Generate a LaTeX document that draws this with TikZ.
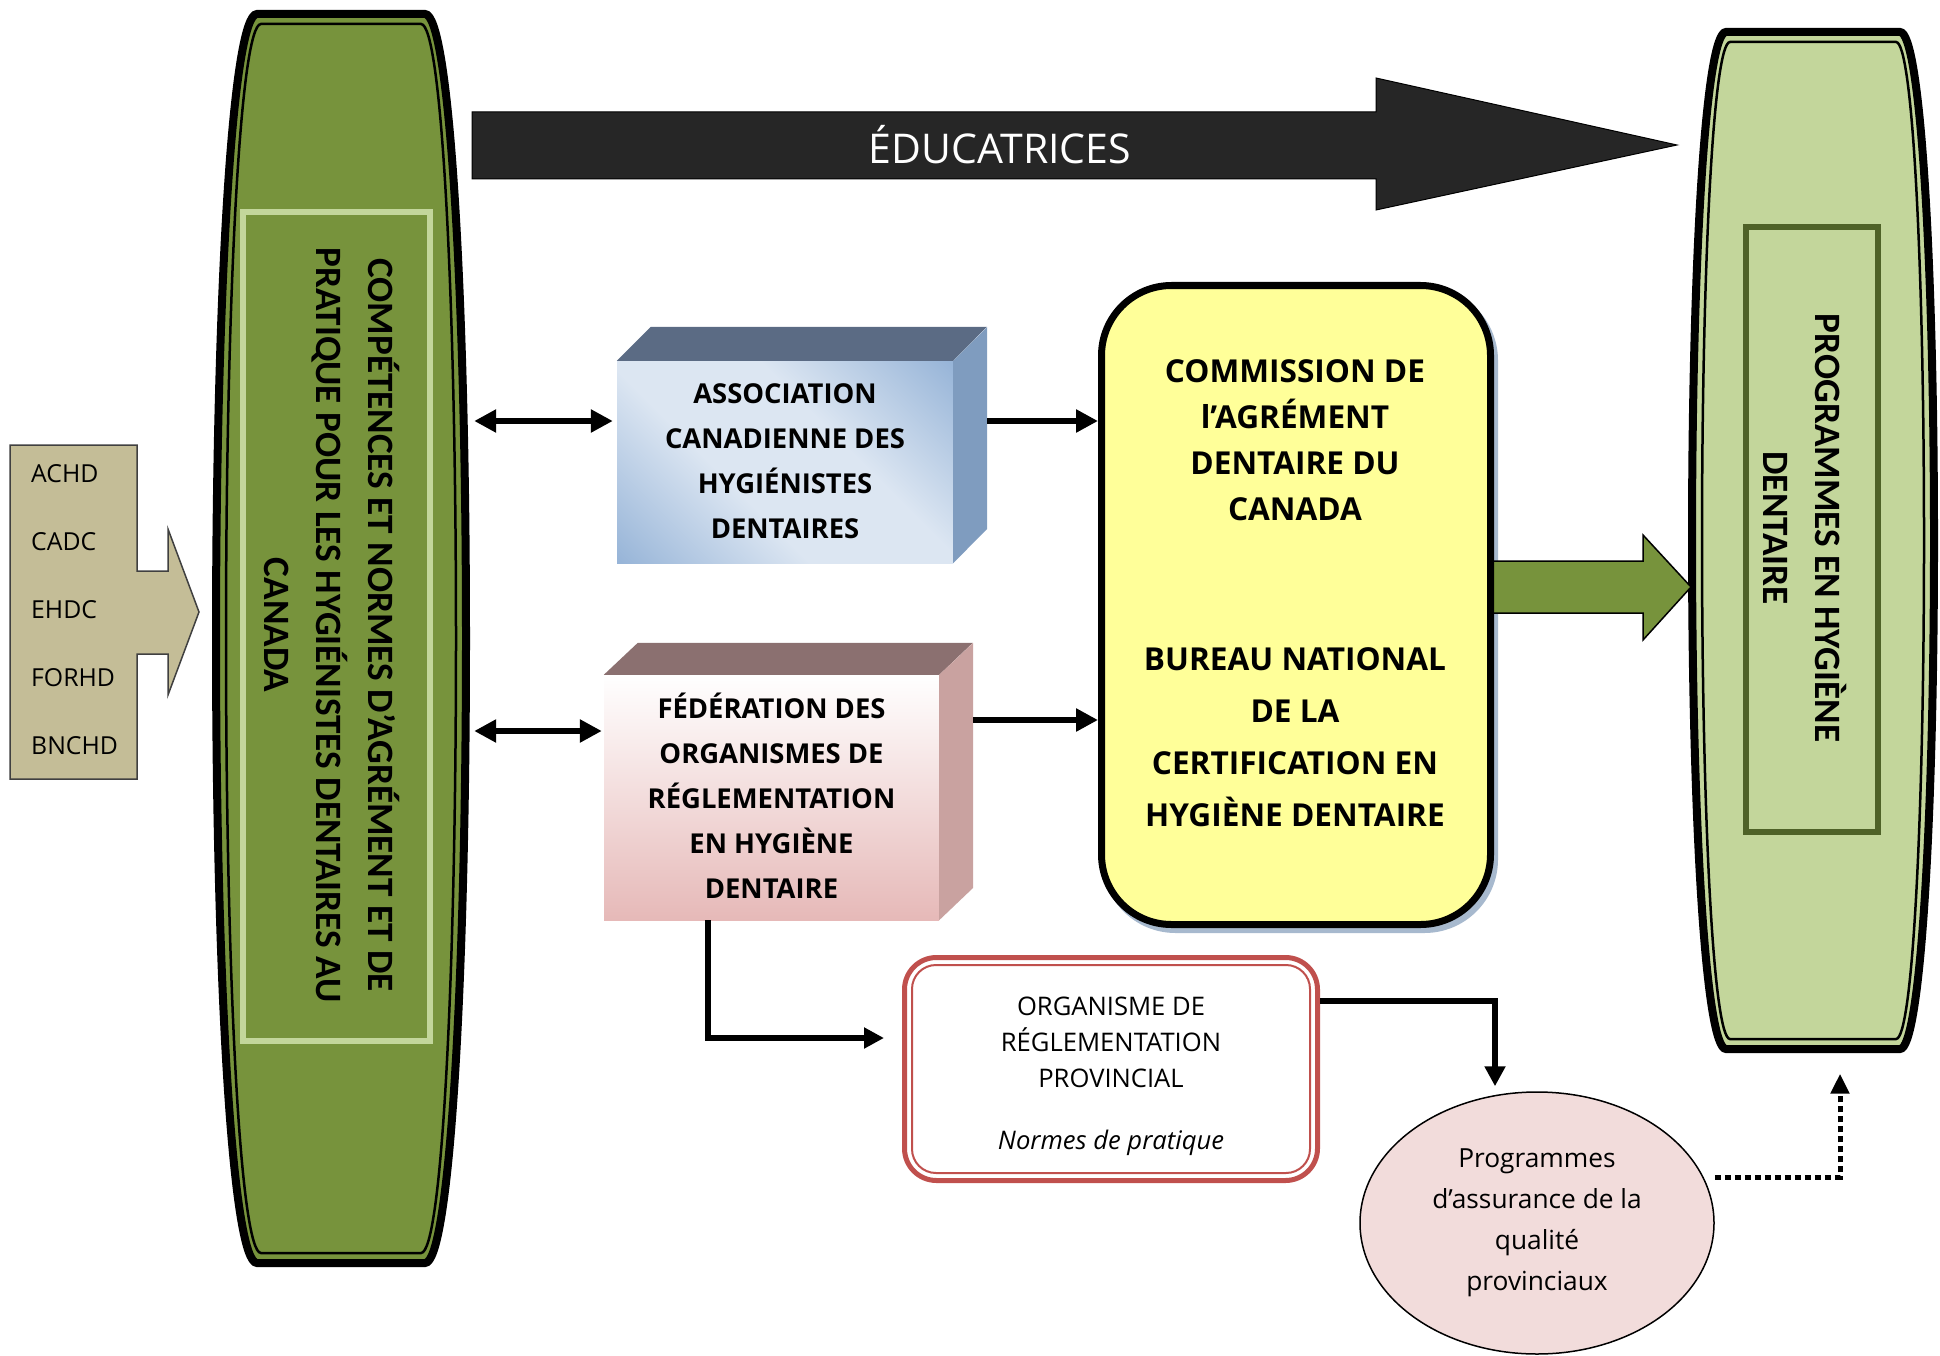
\documentclass[tikz,border=0pt]{standalone}
\usepackage{fontspec}
\setmainfont{Open Sans}
\newfontfamily\carlitofam{Carlito}
\usetikzlibrary{arrows.meta,calc,shapes.geometric}
\definecolor{oliveD}{HTML}{77933C}
\definecolor{oliveL}{HTML}{C3D69B}
\definecolor{oliveDD}{HTML}{4F6228}
\definecolor{tanC}{HTML}{C4BD97}
\definecolor{darkA}{HTML}{262626}
\definecolor{blueL}{HTML}{DCE6F2}
\definecolor{blueB}{HTML}{95B3D7}
\definecolor{blueTop}{HTML}{5B6B84}
\definecolor{blueSide}{HTML}{7F9CBF}
\definecolor{pinkB}{HTML}{E6B9B8}
\definecolor{pinkTop}{HTML}{8B7070}
\definecolor{pinkSide}{HTML}{C9A2A0}
\definecolor{yellowF}{HTML}{FFFF99}
\definecolor{shadowC}{HTML}{A7B9CE}
\definecolor{redC}{HTML}{C0504D}
\definecolor{ellF}{HTML}{F2DCDB}
\pgfdeclarehorizontalshading{bluediag}{100bp}{color(0bp)=(blueB); color(14bp)=(blueB); color(40bp)=(blueL); color(60bp)=(blueL); color(86bp)=(blueB); color(100bp)=(blueB)}
\newcommand\barrelpath[5]{%
 ({#1-#4},{#2}) -- ({#1+#4},{#2})
 .. controls ({#1+#4+0.6*(#5-#4)},{#2}) and ({#1+#5},{#2+0.225*(#3-#2)}) .. ({#1+#5},{0.5*(#2+#3)})
 .. controls ({#1+#5},{#3-0.225*(#3-#2)}) and ({#1+#4+0.6*(#5-#4)},{#3}) .. ({#1+#4},{#3})
 -- ({#1-#4},{#3})
 .. controls ({#1-#4-0.6*(#5-#4)},{#3}) and ({#1-#5},{#3-0.225*(#3-#2)}) .. ({#1-#5},{0.5*(#2+#3)})
 .. controls ({#1-#5},{#2+0.225*(#3-#2)}) and ({#1-#4-0.6*(#5-#4)},{#2}) .. ({#1-#4},{#2}) -- cycle}
\begin{document}
\begin{tikzpicture}[x=1pt,y=-1pt,
  conn/.style={line width=6pt,-{Triangle[length=22pt,width=22pt]}},
  dblconn/.style={line width=6pt,{Triangle[length=22pt,width=22pt]}-{Triangle[length=22pt,width=22pt]}},
  elbow/.style={line width=6pt,-{Triangle[length=20pt,width=20pt]}},
  dotconn/.style={line width=5pt,dash pattern=on 6pt off 4pt,-{Triangle[length=20pt,width=18pt]}},
  vtext/.style={rotate=-90,align=center,font=\carlitofam\bfseries\fontsize{37.2}{52}\selectfont},
  boxtxt/.style={align=center,inner sep=0pt,font=\bfseries\fontsize{27.4}{45}\selectfont},
  ghost/.style={inner sep=0pt,draw=none}]
\useasboundingbox (0,0) rectangle (1940,1356);
% left barrel
\draw[line width=8pt,fill=oliveD] \barrelpath{341}{14}{1263}{84}{125};
\draw[line width=2.5pt] \barrelpath{341}{24}{1253}{80}{115};
\node[ghost,minimum width=266pt,minimum height=1257pt] (leftbar) at (341,638) {};
\node[draw=oliveL,line width=6pt,inner sep=0pt,minimum width=187pt,minimum height=829pt] (compbox) at (336.5,626.5) {};
\node[vtext] (comptxt) at (332,625) {COMPÉTENCES ET NORMES D’AGRÉMENT ET DE\\PRATIQUE POUR LES HYGIÉNISTES DENTAIRES AU\\CANADA};
% right barrel
\draw[line width=8pt,fill=oliveL] \barrelpath{1813}{32}{1049}{87}{121};
\draw[line width=2.5pt] \barrelpath{1813}{42}{1039}{83}{111};
\node[ghost,minimum width=250pt,minimum height=1025pt] (rightbar) at (1813,540) {};
\node[draw=oliveDD,line width=6pt,inner sep=0pt,minimum width=132pt,minimum height=605pt] (progbox) at (1812,529.5) {};
\node[vtext] (progtxt) at (1805,528) {PROGRAMMES EN HYGIÈNE\\DENTAIRE};
% tan callout
\draw[fill=tanC,draw=black!75,line width=1.5pt] (10,445) -- (137,445) -- (137,571) -- (168,571) -- (168,529) -- (199,612) -- (168,695) -- (168,654) -- (137,654) -- (137,779) -- (10,779) -- cycle;
\node[anchor=west,align=left,inner sep=0pt,font=\fontsize{24.8}{68}\selectfont] (orgs) at (31,610) {ACHD\\CADC\\EHDC\\FORHD\\BNCHD};
% top arrow
\draw[fill=darkA,draw=black,line width=1pt] (472,112) -- (1376,112) -- (1376,78) -- (1677,145) -- (1376,210) -- (1376,179) -- (472,179) -- cycle;
\node[text=white,inner sep=0pt,font=\fontsize{41}{48}\selectfont] (edu) at (1000,145) {ÉDUCATRICES};
% blue 3D box
\node[ghost,shading=bluediag,shading angle=45,minimum width=336pt,minimum height=202pt] (acdhface) at (785,462) {};
\fill[blueTop] (acdhface.north west) -- ++(34,-34) -- ++(336,0) -- (acdhface.north east) -- cycle;
\fill[blueSide] (acdhface.north east) -- ++(34,-34) -- ++(0,202) -- (acdhface.south east) -- cycle;
\node[boxtxt] (acdh) at (785,461) {ASSOCIATION\\CANADIENNE DES\\HYGIÉNISTES\\DENTAIRES};
% pink 3D box
\node[ghost,top color=white,bottom color=pinkB,minimum width=335pt,minimum height=245pt] (fedh) at (771.5,797.5) {};
\fill[pinkTop] (fedh.north west) -- ++(34,-32) -- ++(335,0) -- (fedh.north east) -- cycle;
\fill[pinkSide] (fedh.north east) -- ++(34,-32) -- ++(0,245) -- (fedh.south east) -- cycle;
\node[boxtxt] (fedhtxt) at (771.5,795.5) {FÉDÉRATION DES\\ORGANISMES DE\\RÉGLEMENTATION\\EN HYGIÈNE\\DENTAIRE};
% yellow box
\node[draw=shadowC,fill=shadowC,line width=7pt,rounded corners=70pt,minimum width=389pt,minimum height=639pt] (cdacsh) at (1300,610) {};
\fill[oliveD] (1480,561) -- (1643,561) -- (1643,535) -- (1691,587) -- (1643,640) -- (1643,613) -- (1480,613) -- cycle;
\draw[line width=1.5pt] (1494,561) -- (1643,561) -- (1643,535) -- (1691,587) -- (1643,640) -- (1643,613) -- (1494,613);
\node[draw=black,fill=yellowF,line width=7pt,rounded corners=70pt,minimum width=389pt,minimum height=639pt] (cdac) at (1296,605) {};
\node[align=center,inner sep=0pt,font=\bfseries\fontsize{31.6}{46}\selectfont] (cdacA) at (1295,440) {COMMISSION DE\\l’AGRÉMENT\\DENTAIRE DU\\CANADA};
\node[align=center,inner sep=0pt,font=\bfseries\fontsize{31.6}{52}\selectfont] (cdacB) at (1295,737) {BUREAU NATIONAL\\DE LA\\CERTIFICATION EN\\HYGIÈNE DENTAIRE};
% provincial box
\node[draw=redC,fill=white,line width=5pt,rounded corners=32pt,minimum width=413pt,minimum height=223pt,inner sep=0pt] (orp) at (1111,1069) {};
\draw[redC,line width=2pt,rounded corners=24pt] ($(orp.north west)+(10,10)$) rectangle ($(orp.south east)+(-10,-10)$);
\node[align=center,inner sep=0pt,font=\fontsize{25.6}{36}\selectfont] (orptxt) at (1111,1076) {ORGANISME DE\\RÉGLEMENTATION\\PROVINCIAL\\[26pt]\textit{Normes de pratique}};
% ellipse
\node[ellipse,draw=black,fill=ellF,line width=1.5pt,inner sep=0pt,minimum width=354pt,minimum height=262pt,align=center,font=\fontsize{26.3}{41}\selectfont] (qap) at (1537,1223) {Programmes\\d’assurance de la\\qualité\\provinciaux};
% connectors
\coordinate (a1) at ($(acdhface.west)+(-4,-41)$);
\coordinate (a2) at ($(fedh.west)+(-2,-66.5)$);
\draw[dblconn] (leftbar.east |- a1) -- (a1);
\draw[dblconn] (leftbar.east |- a2) -- (a2);
\coordinate (b1) at ($(acdhface.east)+(34,-41)$);
\coordinate (b2) at ($(fedh.east)+(34,-77.5)$);
\draw[conn] (b1) -- (b1 -| cdac.west);
\draw[conn] (b2) -- (b2 -| cdac.west);
\draw[elbow] ($(fedh.south)+(-63.5,0)$) |- ($(orp.west)+(-18,-31)$);
\draw[elbow] ($(orp.east)+(0,-68)$) -| ($(qap.north)+(-42,-5)$);
\coordinate (qtip) at ($(rightbar.south)+(27,21)$);
\draw[dotconn] ($(qap.east)+(0,-46)$) -| (qtip);
\end{tikzpicture}
\end{document}
